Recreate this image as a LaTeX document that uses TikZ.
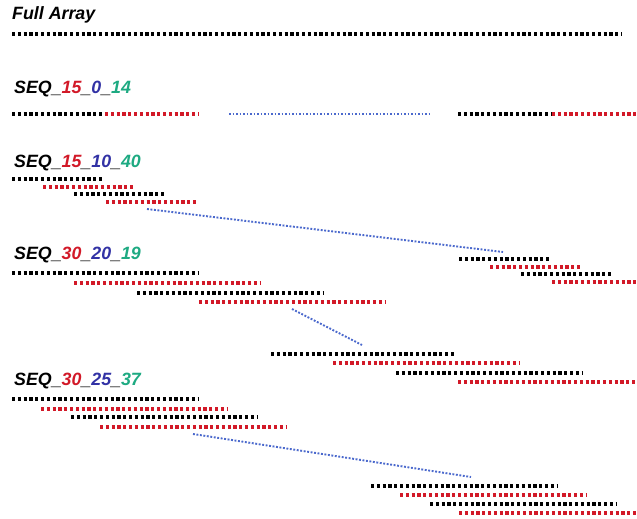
\documentclass[tikz,border=0pt]{standalone}
\usepackage{fontspec}
\setmainfont{Liberation Sans}
\begin{document}
\begin{tikzpicture}[x=1pt,y=-1pt,
  seg/.style={line width=3.1pt, dash pattern=on 3.1pt off 2.7pt},
  blk/.style={seg, draw=black},
  rd/.style={seg, draw=segred},
  link/.style={line width=1.9pt, draw=linkblue, dash pattern=on 1.9pt off 1.6pt},
  lbl/.style={anchor=base west, inner sep=0pt, font=\fontsize{17.8}{20}\selectfont\bfseries\itshape}]
\definecolor{segred}{RGB}{210,25,40}
\definecolor{txtblue}{RGB}{50,50,165}
\definecolor{txtgreen}{RGB}{30,170,130}
\definecolor{linkblue}{RGB}{75,105,205}
\useasboundingbox (0,0) rectangle (637,519);
\fill[white] (0,0) rectangle (637,519);
% Full array
\node[lbl] (lfull) at (12,20) {Full Array};
\draw[blk] (12,34) -- (622,34);
% SEQ_15_0_14
\node[lbl] (l1) at (14,93) {SEQ\_\textcolor{segred}{15}\_\textcolor{txtblue}{0}\_\textcolor{txtgreen}{14}};
\draw[blk] (12,114) -- (105,114);
\draw[rd] (105,114) -- (198,114);
\draw[link] (229,114) -- (430,114);
\draw[blk] (458,114) -- (552,114);
\draw[rd] (552,114) -- (640,114);
% SEQ_15_10_40
\node[lbl] (l2) at (14,167) {SEQ\_\textcolor{segred}{15}\_\textcolor{txtblue}{10}\_\textcolor{txtgreen}{40}};
\draw[blk] (12,179) -- (104,179);
\draw[rd] (43,187) -- (135,187);
\draw[blk] (74,194) -- (166,194);
\draw[rd] (106,202) -- (198,202);
\coordinate (a1) at (147,209);
\coordinate (a2) at (503,252);
\draw[link] (a1) -- (a2);
\draw[blk] (459,259) -- (551,259);
\draw[rd] (490,267) -- (582,267);
\draw[blk] (521,274) -- (613,274);
\draw[rd] (552,282) -- (640,282);
% SEQ_30_20_19
\node[lbl] (l3) at (14,259) {SEQ\_\textcolor{segred}{30}\_\textcolor{txtblue}{20}\_\textcolor{txtgreen}{19}};
\draw[blk] (12,273) -- (198,273);
\draw[rd] (74,283) -- (260,283);
\draw[blk] (137,293) -- (323,293);
\draw[rd] (199,302) -- (385,302);
\coordinate (b1) at (292,309);
\coordinate (b2) at (362,345);
\draw[link] (b1) -- (b2);
\draw[blk] (271,354) -- (456,354);
\draw[rd] (333,363) -- (519,363);
\draw[blk] (396,373) -- (582,373);
\draw[rd] (458,382) -- (640,382);
% SEQ_30_25_37
\node[lbl] (l4) at (14,385) {SEQ\_\textcolor{segred}{30}\_\textcolor{txtblue}{25}\_\textcolor{txtgreen}{37}};
\draw[blk] (12,399) -- (198,399);
\draw[rd] (41,409) -- (227,409);
\draw[blk] (71,417) -- (257,417);
\draw[rd] (100,427) -- (286,427);
\coordinate (c1) at (193,434);
\coordinate (c2) at (471,477);
\draw[link] (c1) -- (c2);
\draw[blk] (371,486) -- (557,486);
\draw[rd] (400,495) -- (586,495);
\draw[blk] (430,504) -- (616,504);
\draw[rd] (459,513) -- (640,513);
\end{tikzpicture}
\end{document}
